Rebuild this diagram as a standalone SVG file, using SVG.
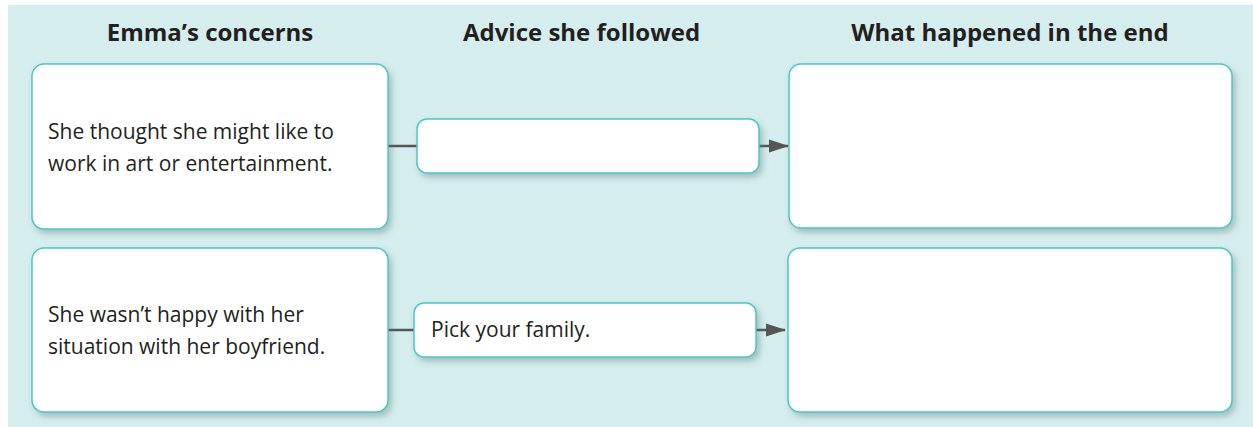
<svg xmlns="http://www.w3.org/2000/svg" width="1253" height="427" viewBox="0 0 1253 427">
  <defs>
    <filter id="sh" x="-10%" y="-20%" width="125%" height="150%">
      <feDropShadow dx="3" dy="4" stdDeviation="3" flood-color="#5a7a7a" flood-opacity="0.4"/>
    </filter>
    <marker id="arr" markerWidth="20" markerHeight="14" refX="19" refY="7" orient="auto" markerUnits="userSpaceOnUse">
      <path d="M0,0.5 L20,7 L0,13.5 Z" fill="#555555"/>
    </marker>
    <style>
      .box { fill: #ffffff; stroke: #4ec5c0; stroke-width: 1.5; filter: url(#sh); }
      .head { font-family: "Open Sans", "Liberation Sans", sans-serif; font-weight: 700; font-size: 24px; fill: #231f20; text-anchor: middle; }
      .txt { font-family: "Open Sans", "Liberation Sans", sans-serif; font-size: 21px; fill: #231f20; }
      .conn { stroke: #555555; stroke-width: 2.5; fill: none; }
    </style>
  </defs>
  <rect x="8" y="5" width="1245" height="422" fill="#d5eded"/>
  <text class="head" x="210" y="41">Emma’s concerns</text>
  <text class="head" x="581.5" y="41">Advice she followed</text>
  <text class="head" x="1010" y="41">What happened in the end</text>
  <g id="connectors">
    <line class="conn" x1="388" y1="146" x2="417" y2="146"/>
    <line class="conn" x1="759" y1="146" x2="788" y2="146" marker-end="url(#arr)"/>
    <line class="conn" x1="388" y1="330" x2="414" y2="330"/>
    <line class="conn" x1="756" y1="330" x2="785" y2="330" marker-end="url(#arr)"/>
  </g>
  <g id="concern1">
    <rect class="box" x="32" y="64" width="356" height="165" rx="12"/>
    <text class="txt" x="48" y="139">She thought she might like to</text>
    <text class="txt" x="48" y="171">work in art or entertainment.</text>
  </g>
  <g id="advice1">
    <rect class="box" x="417" y="119" width="342" height="54" rx="10"/>
  </g>
  <g id="result1">
    <rect class="box" x="789" y="64" width="443" height="164" rx="12"/>
  </g>
  <g id="concern2">
    <rect class="box" x="32" y="248" width="356" height="164" rx="12"/>
    <text class="txt" x="48" y="322">She wasn’t happy with her</text>
    <text class="txt" x="48" y="354">situation with her boyfriend.</text>
  </g>
  <g id="advice2">
    <rect class="box" x="414" y="303" width="342" height="54" rx="10"/>
    <text class="txt" x="431" y="337">Pick your family.</text>
  </g>
  <g id="result2">
    <rect class="box" x="788" y="248" width="444" height="164" rx="12"/>
  </g>
</svg>
